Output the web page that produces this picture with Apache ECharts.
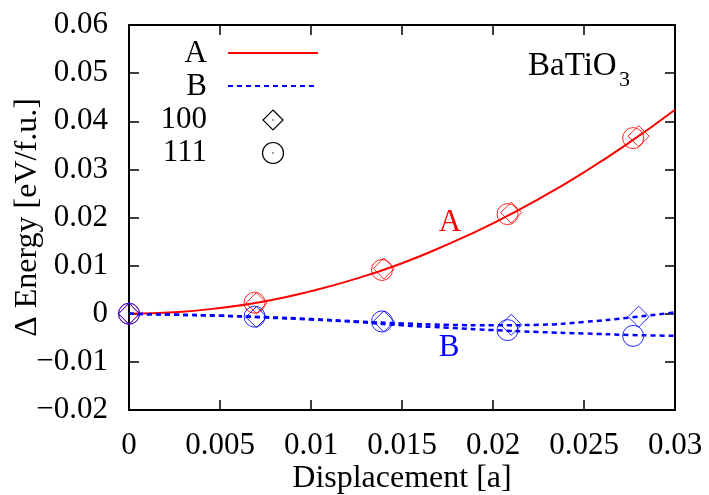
<!DOCTYPE html>
<html>
<head>
<meta charset="utf-8">
<script src="https://cdn.jsdelivr.net/npm/echarts@6/dist/echarts.min.js"></script>
<style>
  html, body { margin: 0; padding: 0; background: #fff; }
  #chart { width: 709px; height: 495px; }
</style>
</head>
<body>
<div id="chart"></div>
<script>
// fitted curves
const curveX = [0, 0.0025, 0.005, 0.0075, 0.01, 0.0125, 0.015, 0.0175, 0.02, 0.0225, 0.025, 0.0275, 0.03];
const curveA = [0, 0.0003, 0.0012, 0.0026, 0.0047, 0.0073, 0.0105, 0.0144, 0.0188, 0.0238, 0.0294, 0.0356, 0.0424];
const curveB100 = [0, -0.0002, -0.0004, -0.0007, -0.0011, -0.0016, -0.0020, -0.0023, -0.0024, -0.0023, -0.0017, -0.0008, 0.0003];
const curveB111 = [0, -0.0002, -0.0004, -0.0008, -0.0012, -0.0017, -0.0024, -0.0029, -0.0034, -0.0038, -0.0041, -0.0044, -0.0046];

// calculated points
const x100 = [0, 0.007, 0.014, 0.021, 0.028];
const x111 = [0, 0.0069, 0.0139, 0.0208, 0.0277];
const A100 = [0, 0.0022, 0.0094, 0.0210, 0.0369];
const A111 = [0, 0.0023, 0.0091, 0.0207, 0.0365];
const B100 = [0, -0.0007, -0.0016, -0.0023, -0.0006];
const B111 = [0, -0.0006, -0.0016, -0.0034, -0.0046];

const font = 'Liberation Serif';
const zip = (xs, ys) => xs.map((x, i) => [x, ys[i]]);
const minus = v => String(+v.toFixed(3)).replace('-', '\u2212');

const chart = echarts.init(document.getElementById('chart'));

const tick = { show: true, inside: true, length: 10, lineStyle: { color: '#000', width: 1.5 } };
const line = { show: true, onZero: false, lineStyle: { color: '#000', width: 2 } };

// hollow markers, so diamonds and circles show through each other
function pts(name, xs, ys, symbol, color) {
    return {
        name: name,
        type: 'scatter',
        data: zip(xs, ys),
        symbol: symbol,
        symbolSize: 21,
        itemStyle: { color: 'rgba(0,0,0,0)', borderColor: color, borderWidth: 1, opacity: 0.85 },
        z: 2
    };
}

function curve(name, ys, color, dash) {
    return {
        name: name,
        type: 'line',
        data: zip(curveX, ys),
        smooth: true,
        showSymbol: false,
        lineStyle: { color: color, width: dash ? 2.5 : 2, type: dash ? [5, 4] : 'solid' },
        z: 3
    };
}

chart.setOption({
    animation: false,
    backgroundColor: '#fff',
    grid: { left: 129, right: 34, top: 25, bottom: 85, outerBoundsMode: 'none' },
    xAxis: [{
        type: 'value', min: 0, max: 0.03, interval: 0.005,
        axisLine: line, axisTick: tick, splitLine: { show: false },
        axisLabel: { fontFamily: font, fontSize: 31, color: '#000', margin: 20, formatter: minus },
        name: 'Displacement [a]', nameLocation: 'middle', nameGap: 53, nameMoveOverlap: false,
        nameTextStyle: { fontFamily: font, fontSize: 32, color: '#000' }
    }, {
        type: 'value', min: 0, max: 0.03, interval: 0.005, position: 'top',
        axisLine: line, axisTick: tick, splitLine: { show: false }, axisLabel: { show: false }
    }],
    yAxis: [{
        type: 'value', min: -0.02, max: 0.06, interval: 0.01,
        axisLine: line, axisTick: tick, splitLine: { show: false },
        axisLabel: { fontFamily: font, fontSize: 31, color: '#000', margin: 21, formatter: minus },
        name: '\u0394 Energy [eV/f.u.]', nameLocation: 'middle', nameGap: 85, nameRotate: 90, nameMoveOverlap: false,
        nameTextStyle: { fontFamily: font, fontSize: 32, color: '#000' }
    }, {
        type: 'value', min: -0.02, max: 0.06, interval: 0.01, position: 'right',
        axisLine: line, axisTick: tick, splitLine: { show: false }, axisLabel: { show: false }
    }],
    series: [
        pts('A 100', x100, A100, 'diamond', '#ff0000'),
        pts('A 111', x111, A111, 'circle', '#ff0000'),
        pts('B 100', x100, B100, 'diamond', '#0000ff'),
        pts('B 111', x111, B111, 'circle', '#0000ff'),
        curve('A', curveA, '#ff0000', false),
        curve('B 100 fit', curveB100, '#0000ff', true),
        curve('B 111 fit', curveB111, '#0000ff', true)
    ],
    graphic: [
        // key
        { type: 'text', x: 207, y: 54, style: { text: 'A', font: '31px ' + font, fill: '#000', align: 'right', verticalAlign: 'middle' } },
        { type: 'line', shape: { x1: 228, y1: 53, x2: 318, y2: 53 }, style: { stroke: '#ff0000', lineWidth: 2 } },
        { type: 'text', x: 207, y: 87, style: { text: 'B', font: '31px ' + font, fill: '#000', align: 'right', verticalAlign: 'middle' } },
        { type: 'line', shape: { x1: 228, y1: 86, x2: 316, y2: 86 }, style: { stroke: '#0000ff', lineWidth: 2, lineDash: [5, 4] } },
        { type: 'text', x: 207, y: 120, style: { text: '100', font: '31px ' + font, fill: '#000', align: 'right', verticalAlign: 'middle' } },
        { type: 'polygon', shape: { points: [[273, 110], [283, 120], [273, 130], [263, 120]] }, style: { fill: 'none', stroke: '#000', lineWidth: 1.2 } },
        { type: 'circle', shape: { cx: 273, cy: 120, r: 0.7 }, style: { fill: '#000' } },
        { type: 'text', x: 207, y: 153, style: { text: '111', font: '31px ' + font, fill: '#000', align: 'right', verticalAlign: 'middle' } },
        { type: 'circle', shape: { cx: 273, cy: 153, r: 10.5 }, style: { fill: 'none', stroke: '#000', lineWidth: 1.2 } },
        { type: 'circle', shape: { cx: 273, cy: 153, r: 0.7 }, style: { fill: '#000' } },
        // compound name
        { type: 'text', x: 528, y: 66, style: { text: 'BaTiO', font: '33px ' + font, fill: '#000', verticalAlign: 'middle' } },
        { type: 'text', x: 619, y: 80, style: { text: '3', font: '22px ' + font, fill: '#000', verticalAlign: 'middle' } },
        // curve labels
        { type: 'text', x: 450, y: 223, style: { text: 'A', font: '31px ' + font, fill: '#ff0000', align: 'center', verticalAlign: 'middle' } },
        { type: 'text', x: 449, y: 348, style: { text: 'B', font: '31px ' + font, fill: '#0000ff', align: 'center', verticalAlign: 'middle' } }
    ]
});
</script>
</body>
</html>
